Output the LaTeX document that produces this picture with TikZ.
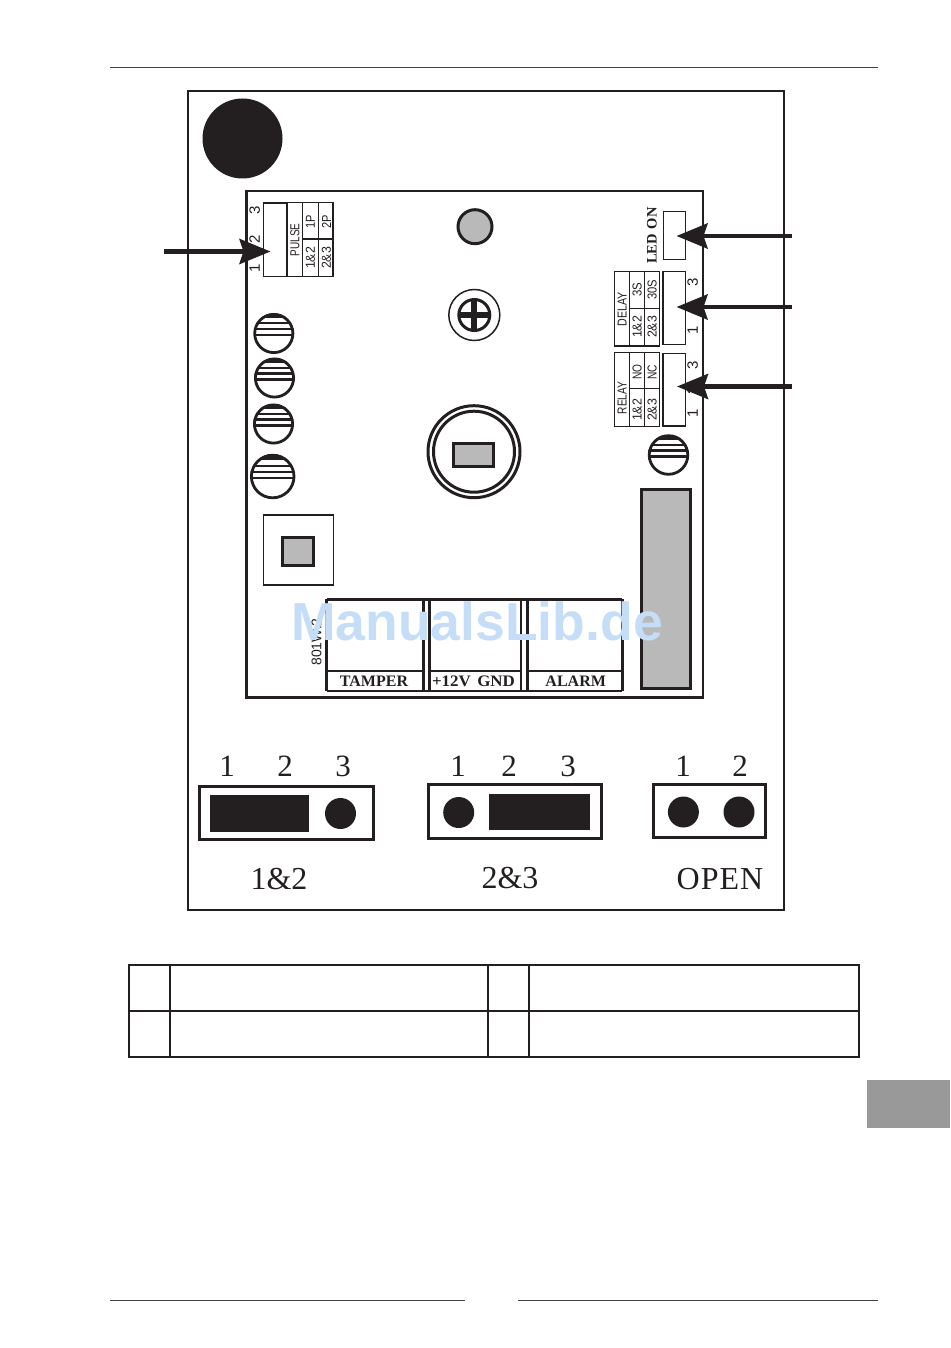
\documentclass[tikz,border=0pt]{standalone}
\usepackage{fontspec}
\usepackage{graphicx}
\setmainfont{Liberation Sans}
\newfontfamily\srf{Liberation Serif}
\usetikzlibrary{arrows.meta}
\definecolor{ink}{HTML}{231F20}
\definecolor{fillgrey}{HTML}{B9B9B9}
\definecolor{tabgrey}{HTML}{999999}
\definecolor{rulegrey}{HTML}{444444}
\definecolor{mark}{HTML}{C6DDF8}
\newcommand\fs[1]{\fontsize{#1}{#1}\selectfont}
\newcommand\cnd[2]{\scalebox{#1}[1]{#2}}
\tikzset{
  txt/.style={inner sep=0pt,outer sep=0pt,text=ink},
  sm/.style={txt,rotate=90,font=\fs{13}},
  pinnum/.style={txt,rotate=90,font=\fs{15}},
  termlabel/.style={txt,font=\srf\bfseries\fs{16}},
  jumpnum/.style={txt,font=\srf\fs{31}},
  jumpname/.style={txt,font=\srf\fs{32}},
  thinbox/.style={draw=ink,line width=1.3pt},
  pcbline/.style={draw=ink,line width=2.5pt},
  heavy/.style={draw=ink,line width=3pt},
  greyheavy/.style={draw=ink,line width=3pt,fill=fillgrey},
  pointer/.style={draw=ink,line width=4.6pt,-{Stealth[length=31pt,width=25pt,inset=4pt,fill=ink]}},
  tableline/.style={draw=ink,line width=2pt},
  pagerule/.style={draw=rulegrey,line width=1pt},
}
\newcommand\stripedcircle[3]{%
  \begin{scope}
    \clip (#1,#2) circle[radius=#3];
    \fill[ink] (#1-#3,#2-#3) rectangle (#1+#3,#2-0.75*#3);
    \fill[ink] (#1-#3,#2-11.5) rectangle (#1+#3,#2-9.3);
    \fill[ink] (#1-#3,#2-5.8) rectangle (#1+#3,#2-3.4);
    \fill[ink] (#1-#3,#2) rectangle (#1+#3,#2+2.6);
  \end{scope}
  \draw[ink,line width=2.8pt] (#1,#2) circle[radius=#3-1.2];
}
\begin{document}
\begin{tikzpicture}[x=1pt,y=-1pt]
\useasboundingbox (0,0) rectangle (950,1348);
\fill[white] (0,0) rectangle (950,1348);
% page furniture
\draw[pagerule] (110,68) -- (878,68);
\draw[pagerule] (110,1300.5) -- (465,1300.5);
\draw[pagerule] (518,1300.5) -- (878,1300.5);
\fill[tabgrey] (867,1080) rectangle (950,1128);
% frame
\draw[ink,line width=2pt] (188,91) rectangle (784,910);
\fill[ink] (242.5,138.5) circle[radius=40];
% PCB
\draw[pcbline] (246.5,191) rectangle (703,697.5);
% pulse header
\draw[thinbox] (263.5,203) rectangle (287,276.5);
\draw[thinbox] (287,202.5) rectangle (333,276.5);
\draw[ink,line width=2pt] (287,202.5) -- (287,276.5);
\draw[thinbox] (302.3,202.5) -- (302.3,276.5);
\draw[thinbox] (318.7,202.5) -- (318.7,276.5);
\draw[thinbox] (302.3,239) -- (333,239);
\node[pinnum] (p3) at (254.7,210) {3};
\node[pinnum] (p2) at (254.7,239) {2};
\node[pinnum] (p1) at (254.7,268) {1};
\node[sm] (pulse) at (295,240) {\cnd{.77}{PULSE}};
\node[sm] (p1p) at (310.5,222) {\cnd{.85}{1P}};
\node[sm] (p2p) at (326.5,222) {\cnd{.85}{2P}};
\node[sm] (p12) at (310.5,258) {\cnd{.95}{1\&2}};
\node[sm] (p23) at (326.5,258) {\cnd{.95}{2\&3}};
% LED
\draw[thinbox] (663.3,211.7) rectangle (685.7,259.3);
\node[txt,rotate=90,font=\srf\bfseries\fs{14.5}] (led) at (652,235.5) {LED\,\,ON};
% delay
\draw[thinbox] (614.7,271.7) rectangle (659.3,346);
\draw[thinbox] (629.7,271.7) -- (629.7,346);
\draw[thinbox] (644.7,271.7) -- (644.7,346);
\draw[thinbox] (629.7,308.3) -- (659.3,308.3);
\draw[thinbox] (663,271.5) rectangle (685.7,344.5);
\node[sm] (delay) at (622.2,309) {\cnd{.82}{DELAY}};
\node[sm] (d3s) at (637.2,290) {\cnd{.88}{3S}};
\node[sm] (d30s) at (652.2,290) {\cnd{.86}{30S}};
\node[sm] (d12) at (637.2,327) {\cnd{.95}{1\&2}};
\node[sm] (d23) at (652.2,327) {\cnd{.95}{2\&3}};
\node[pinnum] (d3) at (692.7,282.7) {3};
\node[pinnum] (d1) at (692.7,330.7) {1};
% relay
\draw[thinbox] (614.7,352.3) rectangle (659.3,426.7);
\draw[thinbox] (629.7,352.3) -- (629.7,426.7);
\draw[thinbox] (644.7,352.3) -- (644.7,426.7);
\draw[thinbox] (629.7,388.5) -- (659.3,388.5);
\draw[thinbox] (663,353.3) rectangle (685.7,426);
\node[sm] (relay) at (622.2,398) {\cnd{.78}{RELAY}};
\node[sm] (rno) at (637.2,372) {\cnd{.78}{NO}};
\node[sm] (rnc) at (652.2,372) {\cnd{.78}{NC}};
\node[sm] (r12) at (637.2,410) {\cnd{.95}{1\&2}};
\node[sm] (r23) at (652.2,410) {\cnd{.95}{2\&3}};
\node[pinnum] (r3) at (692.7,365) {3};
\node[pinnum] (r2) at (692.7,390) {2};
\node[pinnum] (r1) at (692.7,413) {1};
% round parts
\draw[greyheavy] (475,226.7) circle[radius=17];
\draw[ink,line width=1.5pt] (474.3,315) circle[radius=25.5];
\draw[ink,line width=3pt] (474.3,315) circle[radius=15.5];
\fill[ink] (458.8,312) rectangle (489.8,318);
\fill[ink] (471.3,299.5) rectangle (477.3,330.5);
\stripedcircle{273.8}{333.5}{20.3}
\stripedcircle{274.5}{378}{20.3}
\stripedcircle{273.5}{424}{20.3}
\stripedcircle{272.7}{476.5}{22.5}
\stripedcircle{668.5}{455}{20.5}
% capacitor
\draw[heavy] (474,451.7) circle[radius=46];
\draw[heavy] (474,451.7) circle[radius=40.5];
\draw[greyheavy] (453,443) rectangle (493.5,466);
% square
\draw[ink,line width=1.5pt] (263.5,515) rectangle (333.3,585);
\draw[greyheavy] (282.8,537) rectangle (313.2,565);
% grey bar
\draw[greyheavy] (641.5,489.5) rectangle (690,688.5);
% terminals
\draw[pcbline] (326.7,599.3) -- (622.3,599.3);
\draw[pcbline] (326.7,599.3) -- (326.7,691);
\draw[pcbline] (423.3,599.3) -- (423.3,691);
\draw[pcbline] (429.3,599.3) -- (429.3,691);
\draw[pcbline] (521,599.3) -- (521,691);
\draw[pcbline] (527.7,599.3) -- (527.7,691);
\draw[pcbline] (622.3,599.3) -- (622.3,691);
\draw[pcbline] (326.7,691) -- (622.3,691);
\draw[pcbline] (326.7,671) -- (423.3,671);
\draw[pcbline] (429.3,671) -- (521,671);
\draw[pcbline] (527.7,671) -- (622.3,671);
\node[termlabel] (tamper) at (374,681.5) {TAMPER};
\node[termlabel] (pwr) at (473.5,681.5) {\cnd{1.06}{+12V\hspace{6pt}GND}};
\node[termlabel] (alarm) at (575.7,681.5) {ALARM};
\node[txt,rotate=90,font=\fs{14}] (model) at (316.5,642) {801W.2};
% jumpers
\draw[heavy] (199.8,786) rectangle (373.3,839.5);
\fill[ink] (210,795) rectangle (309,832);
\fill[ink] (340.5,813.5) circle[radius=15.5];
\draw[heavy] (428.3,784.8) rectangle (601,838.8);
\fill[ink] (458.7,812.5) circle[radius=15.5];
\fill[ink] (489.2,794) rectangle (590,830);
\draw[heavy] (653.5,784.5) rectangle (765.3,837.8);
\fill[ink] (683.4,812) circle[radius=15.5];
\fill[ink] (739,812) circle[radius=15.5];
\node[jumpnum] (a1) at (227,766) {1};
\node[jumpnum] (a2) at (285,766) {2};
\node[jumpnum] (a3) at (343,766) {3};
\node[jumpnum] (b1) at (458,766) {1};
\node[jumpnum] (b2) at (509,766) {2};
\node[jumpnum] (b3) at (568,766) {3};
\node[jumpnum] (c1) at (683,766) {1};
\node[jumpnum] (c2) at (740,766) {2};
\node[jumpname] (n12) at (279,879) {1\&2};
\node[jumpname] (n23) at (510,878) {2\&3};
\node[jumpname] (nopen) at (720,879) {O\kern1pt P\kern1pt E\kern1pt N};
% table
\draw[tableline] (129,965) rectangle (859,1056.7);
\draw[tableline] (129,1010.7) -- (859,1010.7);
\draw[tableline] (170,965) -- (170,1056.7);
\draw[tableline] (488,965) -- (488,1056.7);
\draw[tableline] (529,965) -- (529,1056.7);
% pointers
\coordinate (from1) at (164,251.5);
\coordinate (to1) at (270.5,251.5);
\coordinate (from2) at (792,236);
\coordinate (to2) at (676.5,236);
\coordinate (from3) at (792,307);
\coordinate (to3) at (676.5,307);
\coordinate (from4) at (792,386.5);
\coordinate (to4) at (677,386.5);
\draw[pointer] (from1) -- (to1);
\draw[pointer] (from2) -- (to2);
\draw[pointer] (from3) -- (to3);
\draw[pointer] (from4) -- (to4);
% watermark
\node[inner sep=0pt,anchor=base west,text=mark,font=\bfseries\fs{53.5}] (wm) at (291,640) {ManualsLib.de};
\end{tikzpicture}
\end{document}
